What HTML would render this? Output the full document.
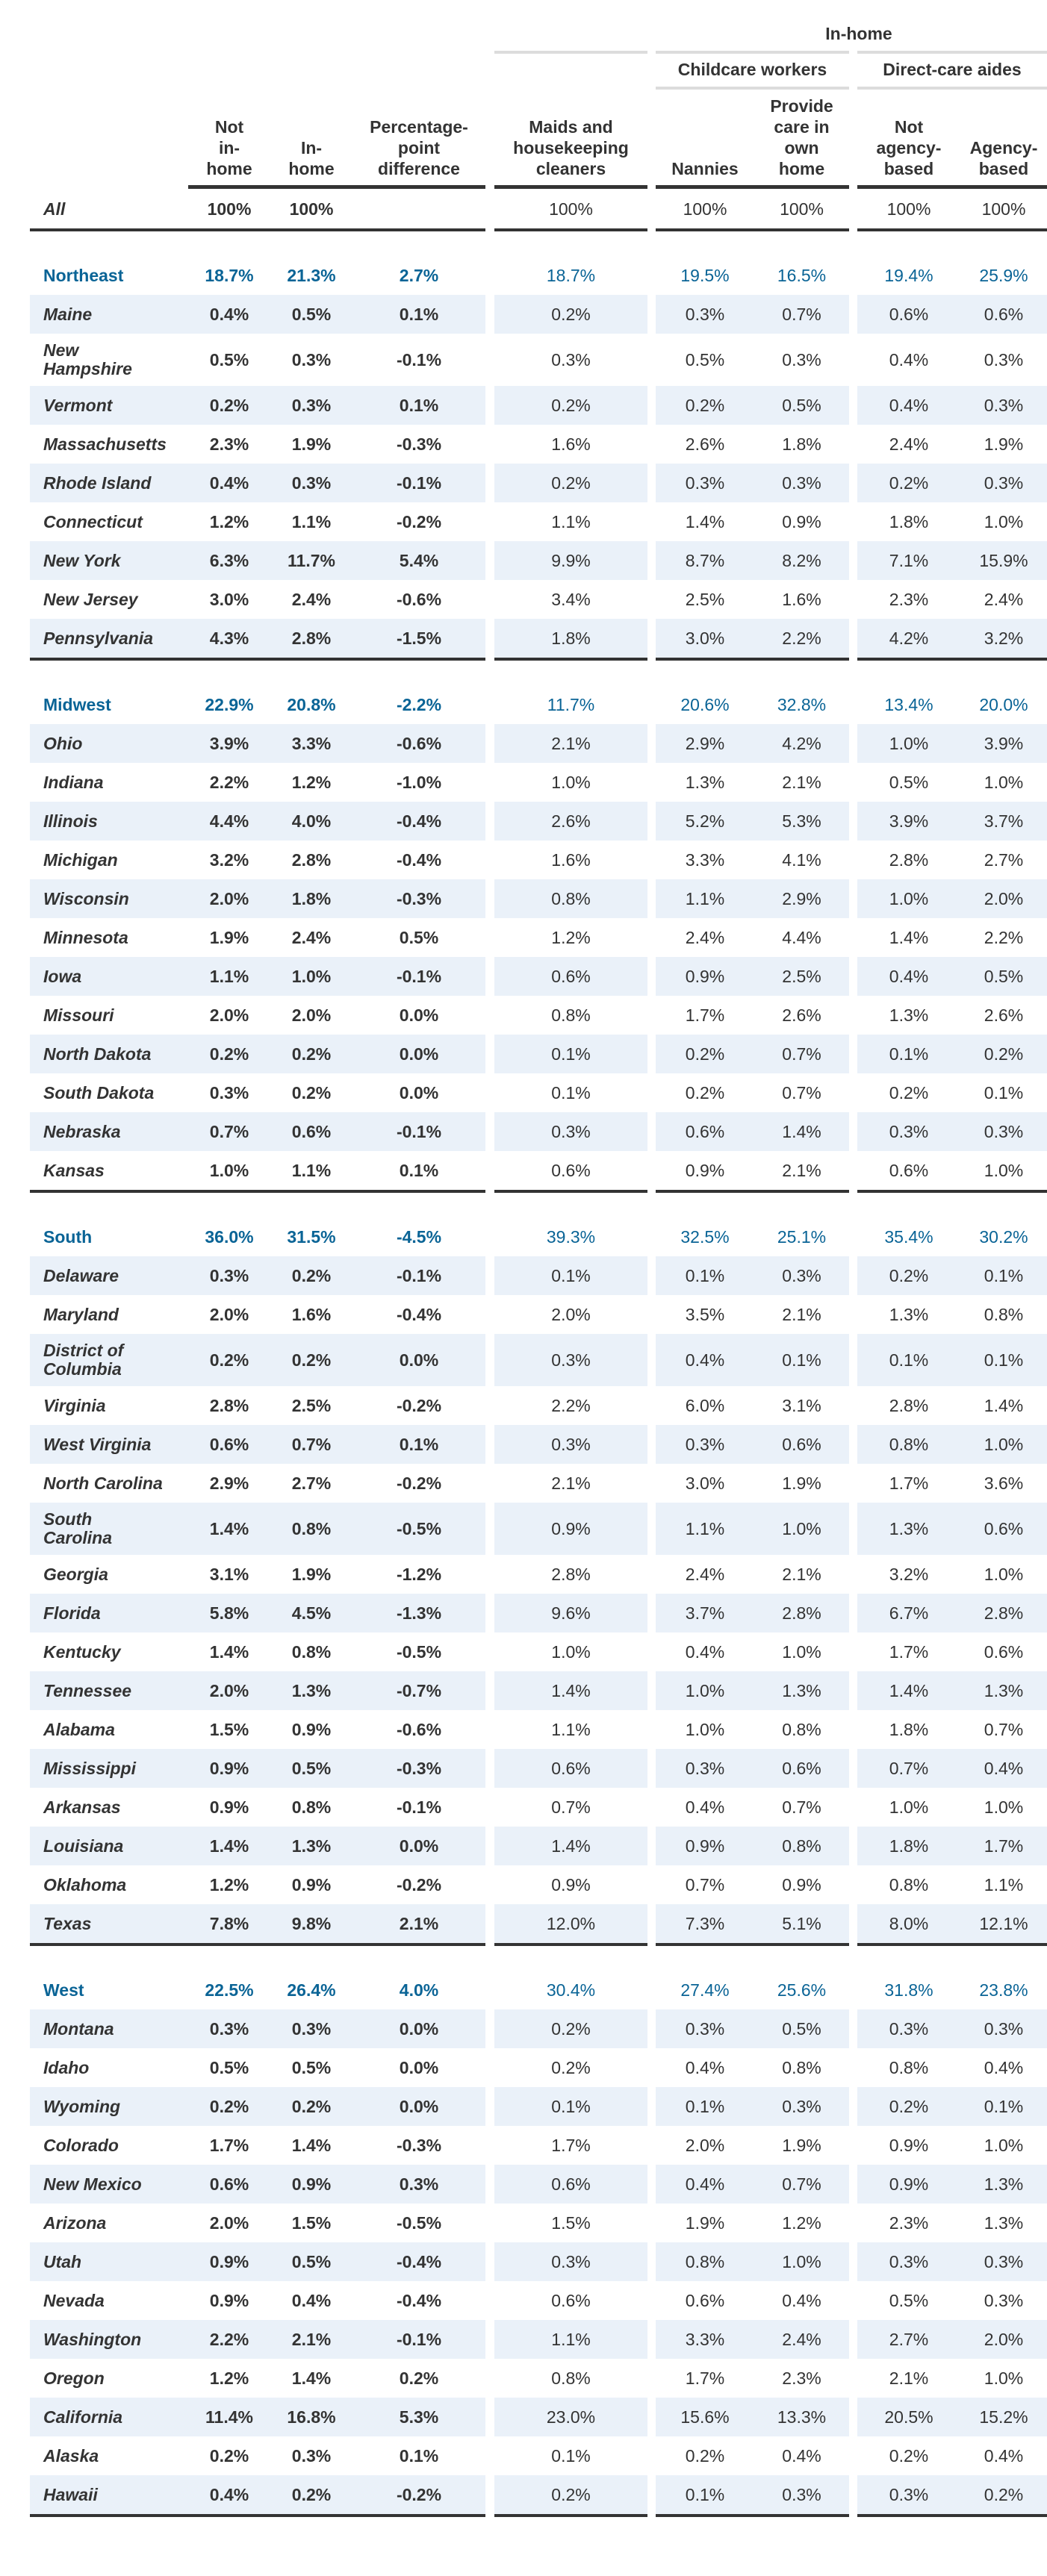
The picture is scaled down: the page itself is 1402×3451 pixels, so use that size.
<!DOCTYPE html>
<html><head><meta charset="utf-8"><style>
html,body{margin:0;padding:0;background:#fff}
body{width:1402px;height:3451px;position:relative;overflow:hidden;font-family:"Liberation Sans",sans-serif;color:#333}
.h{position:absolute;font-weight:bold;font-size:23px;line-height:28px;text-align:center;color:#333}
.gl{position:absolute;background:#dcdcdc;height:4px}
.tl{position:absolute;background:#333;height:5px;top:248px}
table{position:absolute;left:40px;top:253px;border-collapse:separate;border-spacing:0;table-layout:fixed;width:1362px}
td{height:52px;padding:0;line-height:22px;text-align:center;font-size:23px;color:#333;box-sizing:border-box}
tr.two td{height:70px}
tr.two td.n{line-height:25px}
td.n{text-align:left;padding-left:18px;font-weight:bold;font-style:italic}
tr.r td.n{font-style:normal}
td.b{font-weight:bold}
td.g{background:#fff!important;border:none!important}
tr.s td{background:#eaf1f9}
tr.r td{color:#0a6496}
tr.end td{border-bottom:4px solid #333;height:56px}
tr.end.two td{height:74px}
tr.sp td{height:33px}
tr.all td{height:57px;border-bottom:4px solid #333}
</style></head><body>
<div class="h" style="left:1000px;width:300px;top:31px">In-home</div>
<div class="gl" style="left:662px;width:205px;top:68px"></div>
<div class="gl" style="left:878px;width:259px;top:68px"></div>
<div class="gl" style="left:1148px;width:254px;top:68px"></div>
<div class="h" style="left:878px;width:259px;top:79px">Childcare workers</div>
<div class="h" style="left:1148px;width:254px;top:79px">Direct-care aides</div>
<div class="gl" style="left:878px;width:259px;top:116px"></div>
<div class="gl" style="left:1148px;width:254px;top:116px"></div>

<div class="h" style="left:252px;width:110px;top:156px">Not<br>in-<br>home</div>
<div class="h" style="left:362px;width:110px;top:184px">In-<br>home</div>
<div class="h" style="left:472px;width:178px;top:156px">Percentage-<br>point<br>difference</div>
<div class="h" style="left:662px;width:205px;top:156px">Maids and<br>housekeeping<br>cleaners</div>
<div class="h" style="left:878px;width:132px;top:212px">Nannies</div>
<div class="h" style="left:1010px;width:127px;top:128px">Provide<br>care in<br>own<br>home</div>
<div class="h" style="left:1148px;width:138px;top:156px">Not<br>agency-<br>based</div>
<div class="h" style="left:1286px;width:116px;top:184px">Agency-<br>based</div>

<div class="tl" style="left:252px;width:398px"></div>
<div class="tl" style="left:662px;width:205px"></div>
<div class="tl" style="left:878px;width:259px"></div>
<div class="tl" style="left:1148px;width:254px"></div>

<table>
<colgroup><col style="width:212px"><col style="width:110px"><col style="width:110px"><col style="width:178px"><col style="width:12px"><col style="width:205px"><col style="width:11px"><col style="width:132px"><col style="width:127px"><col style="width:11px"><col style="width:138px"><col style="width:116px"></colgroup>
<tr class="all"><td class="n">All</td><td class="b">100%</td><td class="b">100%</td><td></td><td class="g"></td><td>100%</td><td class="g"></td><td>100%</td><td>100%</td><td class="g"></td><td>100%</td><td>100%</td></tr>
<tr class="sp"><td colspan="12"></td></tr>

<tr class="r"><td class="n">Northeast</td><td class="b">18.7%</td><td class="b">21.3%</td><td class="b">2.7%</td><td class="g"></td><td>18.7%</td><td class="g"></td><td>19.5%</td><td>16.5%</td><td class="g"></td><td>19.4%</td><td>25.9%</td></tr>
<tr class="s"><td class="n">Maine</td><td class="b">0.4%</td><td class="b">0.5%</td><td class="b">0.1%</td><td class="g"></td><td>0.2%</td><td class="g"></td><td>0.3%</td><td>0.7%</td><td class="g"></td><td>0.6%</td><td>0.6%</td></tr>
<tr class="two"><td class="n">New<br>Hampshire</td><td class="b">0.5%</td><td class="b">0.3%</td><td class="b">-0.1%</td><td class="g"></td><td>0.3%</td><td class="g"></td><td>0.5%</td><td>0.3%</td><td class="g"></td><td>0.4%</td><td>0.3%</td></tr>
<tr class="s"><td class="n">Vermont</td><td class="b">0.2%</td><td class="b">0.3%</td><td class="b">0.1%</td><td class="g"></td><td>0.2%</td><td class="g"></td><td>0.2%</td><td>0.5%</td><td class="g"></td><td>0.4%</td><td>0.3%</td></tr>
<tr><td class="n">Massachusetts</td><td class="b">2.3%</td><td class="b">1.9%</td><td class="b">-0.3%</td><td class="g"></td><td>1.6%</td><td class="g"></td><td>2.6%</td><td>1.8%</td><td class="g"></td><td>2.4%</td><td>1.9%</td></tr>
<tr class="s"><td class="n">Rhode Island</td><td class="b">0.4%</td><td class="b">0.3%</td><td class="b">-0.1%</td><td class="g"></td><td>0.2%</td><td class="g"></td><td>0.3%</td><td>0.3%</td><td class="g"></td><td>0.2%</td><td>0.3%</td></tr>
<tr><td class="n">Connecticut</td><td class="b">1.2%</td><td class="b">1.1%</td><td class="b">-0.2%</td><td class="g"></td><td>1.1%</td><td class="g"></td><td>1.4%</td><td>0.9%</td><td class="g"></td><td>1.8%</td><td>1.0%</td></tr>
<tr class="s"><td class="n">New York</td><td class="b">6.3%</td><td class="b">11.7%</td><td class="b">5.4%</td><td class="g"></td><td>9.9%</td><td class="g"></td><td>8.7%</td><td>8.2%</td><td class="g"></td><td>7.1%</td><td>15.9%</td></tr>
<tr><td class="n">New Jersey</td><td class="b">3.0%</td><td class="b">2.4%</td><td class="b">-0.6%</td><td class="g"></td><td>3.4%</td><td class="g"></td><td>2.5%</td><td>1.6%</td><td class="g"></td><td>2.3%</td><td>2.4%</td></tr>
<tr class="s end"><td class="n">Pennsylvania</td><td class="b">4.3%</td><td class="b">2.8%</td><td class="b">-1.5%</td><td class="g"></td><td>1.8%</td><td class="g"></td><td>3.0%</td><td>2.2%</td><td class="g"></td><td>4.2%</td><td>3.2%</td></tr>
<tr class="sp"><td colspan="12"></td></tr>

<tr class="r"><td class="n">Midwest</td><td class="b">22.9%</td><td class="b">20.8%</td><td class="b">-2.2%</td><td class="g"></td><td>11.7%</td><td class="g"></td><td>20.6%</td><td>32.8%</td><td class="g"></td><td>13.4%</td><td>20.0%</td></tr>
<tr class="s"><td class="n">Ohio</td><td class="b">3.9%</td><td class="b">3.3%</td><td class="b">-0.6%</td><td class="g"></td><td>2.1%</td><td class="g"></td><td>2.9%</td><td>4.2%</td><td class="g"></td><td>1.0%</td><td>3.9%</td></tr>
<tr><td class="n">Indiana</td><td class="b">2.2%</td><td class="b">1.2%</td><td class="b">-1.0%</td><td class="g"></td><td>1.0%</td><td class="g"></td><td>1.3%</td><td>2.1%</td><td class="g"></td><td>0.5%</td><td>1.0%</td></tr>
<tr class="s"><td class="n">Illinois</td><td class="b">4.4%</td><td class="b">4.0%</td><td class="b">-0.4%</td><td class="g"></td><td>2.6%</td><td class="g"></td><td>5.2%</td><td>5.3%</td><td class="g"></td><td>3.9%</td><td>3.7%</td></tr>
<tr><td class="n">Michigan</td><td class="b">3.2%</td><td class="b">2.8%</td><td class="b">-0.4%</td><td class="g"></td><td>1.6%</td><td class="g"></td><td>3.3%</td><td>4.1%</td><td class="g"></td><td>2.8%</td><td>2.7%</td></tr>
<tr class="s"><td class="n">Wisconsin</td><td class="b">2.0%</td><td class="b">1.8%</td><td class="b">-0.3%</td><td class="g"></td><td>0.8%</td><td class="g"></td><td>1.1%</td><td>2.9%</td><td class="g"></td><td>1.0%</td><td>2.0%</td></tr>
<tr><td class="n">Minnesota</td><td class="b">1.9%</td><td class="b">2.4%</td><td class="b">0.5%</td><td class="g"></td><td>1.2%</td><td class="g"></td><td>2.4%</td><td>4.4%</td><td class="g"></td><td>1.4%</td><td>2.2%</td></tr>
<tr class="s"><td class="n">Iowa</td><td class="b">1.1%</td><td class="b">1.0%</td><td class="b">-0.1%</td><td class="g"></td><td>0.6%</td><td class="g"></td><td>0.9%</td><td>2.5%</td><td class="g"></td><td>0.4%</td><td>0.5%</td></tr>
<tr><td class="n">Missouri</td><td class="b">2.0%</td><td class="b">2.0%</td><td class="b">0.0%</td><td class="g"></td><td>0.8%</td><td class="g"></td><td>1.7%</td><td>2.6%</td><td class="g"></td><td>1.3%</td><td>2.6%</td></tr>
<tr class="s"><td class="n">North Dakota</td><td class="b">0.2%</td><td class="b">0.2%</td><td class="b">0.0%</td><td class="g"></td><td>0.1%</td><td class="g"></td><td>0.2%</td><td>0.7%</td><td class="g"></td><td>0.1%</td><td>0.2%</td></tr>
<tr><td class="n">South Dakota</td><td class="b">0.3%</td><td class="b">0.2%</td><td class="b">0.0%</td><td class="g"></td><td>0.1%</td><td class="g"></td><td>0.2%</td><td>0.7%</td><td class="g"></td><td>0.2%</td><td>0.1%</td></tr>
<tr class="s"><td class="n">Nebraska</td><td class="b">0.7%</td><td class="b">0.6%</td><td class="b">-0.1%</td><td class="g"></td><td>0.3%</td><td class="g"></td><td>0.6%</td><td>1.4%</td><td class="g"></td><td>0.3%</td><td>0.3%</td></tr>
<tr class="end"><td class="n">Kansas</td><td class="b">1.0%</td><td class="b">1.1%</td><td class="b">0.1%</td><td class="g"></td><td>0.6%</td><td class="g"></td><td>0.9%</td><td>2.1%</td><td class="g"></td><td>0.6%</td><td>1.0%</td></tr>
<tr class="sp"><td colspan="12"></td></tr>

<tr class="r"><td class="n">South</td><td class="b">36.0%</td><td class="b">31.5%</td><td class="b">-4.5%</td><td class="g"></td><td>39.3%</td><td class="g"></td><td>32.5%</td><td>25.1%</td><td class="g"></td><td>35.4%</td><td>30.2%</td></tr>
<tr class="s"><td class="n">Delaware</td><td class="b">0.3%</td><td class="b">0.2%</td><td class="b">-0.1%</td><td class="g"></td><td>0.1%</td><td class="g"></td><td>0.1%</td><td>0.3%</td><td class="g"></td><td>0.2%</td><td>0.1%</td></tr>
<tr><td class="n">Maryland</td><td class="b">2.0%</td><td class="b">1.6%</td><td class="b">-0.4%</td><td class="g"></td><td>2.0%</td><td class="g"></td><td>3.5%</td><td>2.1%</td><td class="g"></td><td>1.3%</td><td>0.8%</td></tr>
<tr class="s two"><td class="n">District of<br>Columbia</td><td class="b">0.2%</td><td class="b">0.2%</td><td class="b">0.0%</td><td class="g"></td><td>0.3%</td><td class="g"></td><td>0.4%</td><td>0.1%</td><td class="g"></td><td>0.1%</td><td>0.1%</td></tr>
<tr><td class="n">Virginia</td><td class="b">2.8%</td><td class="b">2.5%</td><td class="b">-0.2%</td><td class="g"></td><td>2.2%</td><td class="g"></td><td>6.0%</td><td>3.1%</td><td class="g"></td><td>2.8%</td><td>1.4%</td></tr>
<tr class="s"><td class="n">West Virginia</td><td class="b">0.6%</td><td class="b">0.7%</td><td class="b">0.1%</td><td class="g"></td><td>0.3%</td><td class="g"></td><td>0.3%</td><td>0.6%</td><td class="g"></td><td>0.8%</td><td>1.0%</td></tr>
<tr><td class="n">North Carolina</td><td class="b">2.9%</td><td class="b">2.7%</td><td class="b">-0.2%</td><td class="g"></td><td>2.1%</td><td class="g"></td><td>3.0%</td><td>1.9%</td><td class="g"></td><td>1.7%</td><td>3.6%</td></tr>
<tr class="s two"><td class="n">South<br>Carolina</td><td class="b">1.4%</td><td class="b">0.8%</td><td class="b">-0.5%</td><td class="g"></td><td>0.9%</td><td class="g"></td><td>1.1%</td><td>1.0%</td><td class="g"></td><td>1.3%</td><td>0.6%</td></tr>
<tr><td class="n">Georgia</td><td class="b">3.1%</td><td class="b">1.9%</td><td class="b">-1.2%</td><td class="g"></td><td>2.8%</td><td class="g"></td><td>2.4%</td><td>2.1%</td><td class="g"></td><td>3.2%</td><td>1.0%</td></tr>
<tr class="s"><td class="n">Florida</td><td class="b">5.8%</td><td class="b">4.5%</td><td class="b">-1.3%</td><td class="g"></td><td>9.6%</td><td class="g"></td><td>3.7%</td><td>2.8%</td><td class="g"></td><td>6.7%</td><td>2.8%</td></tr>
<tr><td class="n">Kentucky</td><td class="b">1.4%</td><td class="b">0.8%</td><td class="b">-0.5%</td><td class="g"></td><td>1.0%</td><td class="g"></td><td>0.4%</td><td>1.0%</td><td class="g"></td><td>1.7%</td><td>0.6%</td></tr>
<tr class="s"><td class="n">Tennessee</td><td class="b">2.0%</td><td class="b">1.3%</td><td class="b">-0.7%</td><td class="g"></td><td>1.4%</td><td class="g"></td><td>1.0%</td><td>1.3%</td><td class="g"></td><td>1.4%</td><td>1.3%</td></tr>
<tr><td class="n">Alabama</td><td class="b">1.5%</td><td class="b">0.9%</td><td class="b">-0.6%</td><td class="g"></td><td>1.1%</td><td class="g"></td><td>1.0%</td><td>0.8%</td><td class="g"></td><td>1.8%</td><td>0.7%</td></tr>
<tr class="s"><td class="n">Mississippi</td><td class="b">0.9%</td><td class="b">0.5%</td><td class="b">-0.3%</td><td class="g"></td><td>0.6%</td><td class="g"></td><td>0.3%</td><td>0.6%</td><td class="g"></td><td>0.7%</td><td>0.4%</td></tr>
<tr><td class="n">Arkansas</td><td class="b">0.9%</td><td class="b">0.8%</td><td class="b">-0.1%</td><td class="g"></td><td>0.7%</td><td class="g"></td><td>0.4%</td><td>0.7%</td><td class="g"></td><td>1.0%</td><td>1.0%</td></tr>
<tr class="s"><td class="n">Louisiana</td><td class="b">1.4%</td><td class="b">1.3%</td><td class="b">0.0%</td><td class="g"></td><td>1.4%</td><td class="g"></td><td>0.9%</td><td>0.8%</td><td class="g"></td><td>1.8%</td><td>1.7%</td></tr>
<tr><td class="n">Oklahoma</td><td class="b">1.2%</td><td class="b">0.9%</td><td class="b">-0.2%</td><td class="g"></td><td>0.9%</td><td class="g"></td><td>0.7%</td><td>0.9%</td><td class="g"></td><td>0.8%</td><td>1.1%</td></tr>
<tr class="s end"><td class="n">Texas</td><td class="b">7.8%</td><td class="b">9.8%</td><td class="b">2.1%</td><td class="g"></td><td>12.0%</td><td class="g"></td><td>7.3%</td><td>5.1%</td><td class="g"></td><td>8.0%</td><td>12.1%</td></tr>
<tr class="sp"><td colspan="12"></td></tr>

<tr class="r"><td class="n">West</td><td class="b">22.5%</td><td class="b">26.4%</td><td class="b">4.0%</td><td class="g"></td><td>30.4%</td><td class="g"></td><td>27.4%</td><td>25.6%</td><td class="g"></td><td>31.8%</td><td>23.8%</td></tr>
<tr class="s"><td class="n">Montana</td><td class="b">0.3%</td><td class="b">0.3%</td><td class="b">0.0%</td><td class="g"></td><td>0.2%</td><td class="g"></td><td>0.3%</td><td>0.5%</td><td class="g"></td><td>0.3%</td><td>0.3%</td></tr>
<tr><td class="n">Idaho</td><td class="b">0.5%</td><td class="b">0.5%</td><td class="b">0.0%</td><td class="g"></td><td>0.2%</td><td class="g"></td><td>0.4%</td><td>0.8%</td><td class="g"></td><td>0.8%</td><td>0.4%</td></tr>
<tr class="s"><td class="n">Wyoming</td><td class="b">0.2%</td><td class="b">0.2%</td><td class="b">0.0%</td><td class="g"></td><td>0.1%</td><td class="g"></td><td>0.1%</td><td>0.3%</td><td class="g"></td><td>0.2%</td><td>0.1%</td></tr>
<tr><td class="n">Colorado</td><td class="b">1.7%</td><td class="b">1.4%</td><td class="b">-0.3%</td><td class="g"></td><td>1.7%</td><td class="g"></td><td>2.0%</td><td>1.9%</td><td class="g"></td><td>0.9%</td><td>1.0%</td></tr>
<tr class="s"><td class="n">New Mexico</td><td class="b">0.6%</td><td class="b">0.9%</td><td class="b">0.3%</td><td class="g"></td><td>0.6%</td><td class="g"></td><td>0.4%</td><td>0.7%</td><td class="g"></td><td>0.9%</td><td>1.3%</td></tr>
<tr><td class="n">Arizona</td><td class="b">2.0%</td><td class="b">1.5%</td><td class="b">-0.5%</td><td class="g"></td><td>1.5%</td><td class="g"></td><td>1.9%</td><td>1.2%</td><td class="g"></td><td>2.3%</td><td>1.3%</td></tr>
<tr class="s"><td class="n">Utah</td><td class="b">0.9%</td><td class="b">0.5%</td><td class="b">-0.4%</td><td class="g"></td><td>0.3%</td><td class="g"></td><td>0.8%</td><td>1.0%</td><td class="g"></td><td>0.3%</td><td>0.3%</td></tr>
<tr><td class="n">Nevada</td><td class="b">0.9%</td><td class="b">0.4%</td><td class="b">-0.4%</td><td class="g"></td><td>0.6%</td><td class="g"></td><td>0.6%</td><td>0.4%</td><td class="g"></td><td>0.5%</td><td>0.3%</td></tr>
<tr class="s"><td class="n">Washington</td><td class="b">2.2%</td><td class="b">2.1%</td><td class="b">-0.1%</td><td class="g"></td><td>1.1%</td><td class="g"></td><td>3.3%</td><td>2.4%</td><td class="g"></td><td>2.7%</td><td>2.0%</td></tr>
<tr><td class="n">Oregon</td><td class="b">1.2%</td><td class="b">1.4%</td><td class="b">0.2%</td><td class="g"></td><td>0.8%</td><td class="g"></td><td>1.7%</td><td>2.3%</td><td class="g"></td><td>2.1%</td><td>1.0%</td></tr>
<tr class="s"><td class="n">California</td><td class="b">11.4%</td><td class="b">16.8%</td><td class="b">5.3%</td><td class="g"></td><td>23.0%</td><td class="g"></td><td>15.6%</td><td>13.3%</td><td class="g"></td><td>20.5%</td><td>15.2%</td></tr>
<tr><td class="n">Alaska</td><td class="b">0.2%</td><td class="b">0.3%</td><td class="b">0.1%</td><td class="g"></td><td>0.1%</td><td class="g"></td><td>0.2%</td><td>0.4%</td><td class="g"></td><td>0.2%</td><td>0.4%</td></tr>
<tr class="s end"><td class="n">Hawaii</td><td class="b">0.4%</td><td class="b">0.2%</td><td class="b">-0.2%</td><td class="g"></td><td>0.2%</td><td class="g"></td><td>0.1%</td><td>0.3%</td><td class="g"></td><td>0.3%</td><td>0.2%</td></tr>
</table>
</body></html>
